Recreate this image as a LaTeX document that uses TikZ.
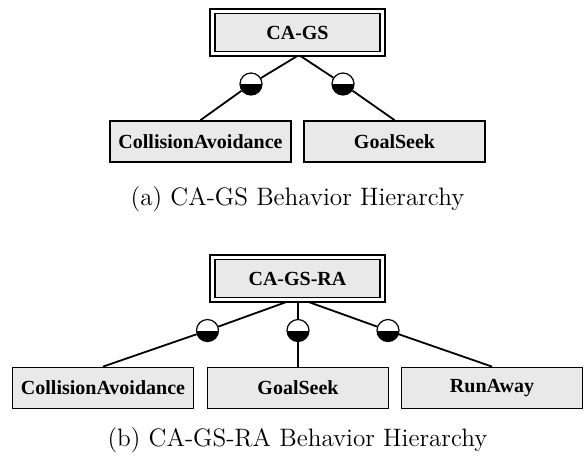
\documentclass[tikz,border=0pt]{standalone}
\usepackage{fontspec}
\usepackage{tikz}
\usetikzlibrary{backgrounds}
\newfontfamily\boxfont{Liberation Serif}
\definecolor{boxgray}{RGB}{233,233,233}

\begin{document}
\begin{tikzpicture}[
  x=0.5pt, y=-0.5pt,
  behav/.style={draw, line width=0.9pt, fill=boxgray, inner sep=0pt,
    minimum width=90.5pt, minimum height=20.5pt, font=\boxfont\bfseries\fontsize{10}{12}\selectfont},
  composite/.style={behav, line width=0.8pt, double, double distance=1.5pt,
    minimum width=85pt, minimum height=21.4pt},
  joint/.style={circle, draw, line width=0.6pt, fill=white, inner sep=0pt, minimum size=11pt,
    path picture={\fill[black] (path picture bounding box.west) rectangle (path picture bounding box.south east);}},
  conn/.style={line width=0.9pt},
  capt/.style={anchor=base, font=\fontsize{12.6}{15}\selectfont}
]
\useasboundingbox (0,0) rectangle (585,457);

% (a)
\node[composite] (cags) at (297.5,32.5)  {CA-GS};
\node[behav]     (ca1)  at (200.5,141.5) {CollisionAvoidance};
\node[behav]     (gs1)  at (394.5,141.5) {GoalSeek};
\node[joint]     (j1)   at (251,84) {};
\node[joint]     (j2)   at (343,84) {};
\node[capt]      (capa) at (297.5,205) {(a) CA-GS Behavior Hierarchy};

% (b)
\node[composite] (cagsra) at (297.5,278.5) {CA-GS-RA};
\node[behav]     (ca2)    at (103,388)     {CollisionAvoidance};
\node[behav]     (gs2)    at (298,388)     {GoalSeek};
\node[behav]     (ra2)    at (492,388)     {RunAway};
\node[joint]     (j3)     at (207.5,330.5) {};
\node[joint]     (j4)     at (298,330.5)   {};
\node[joint]     (j5)     at (388,330.5)   {};
\node[capt]      (capb)   at (297.5,446)   {(b) CA-GS-RA Behavior Hierarchy};

\begin{scope}[on background layer]
  \draw[conn] ([xshift=1pt]cags.south) -- (j1) -- (ca1.north);
  \draw[conn] ([xshift=0.5pt]cags.south) -- (j2) -- (gs1.north);
  \draw[conn] ([xshift=-3.75pt]cagsra.south) -- (j3) -- (ca2.north);
  \draw[conn] ([xshift=0.25pt]cagsra.south) -- (j4) -- (gs2.north);
  \draw[conn] ([xshift=3.75pt]cagsra.south) -- (j5) -- (ra2.north);
\end{scope}
\end{tikzpicture}
\end{document}
